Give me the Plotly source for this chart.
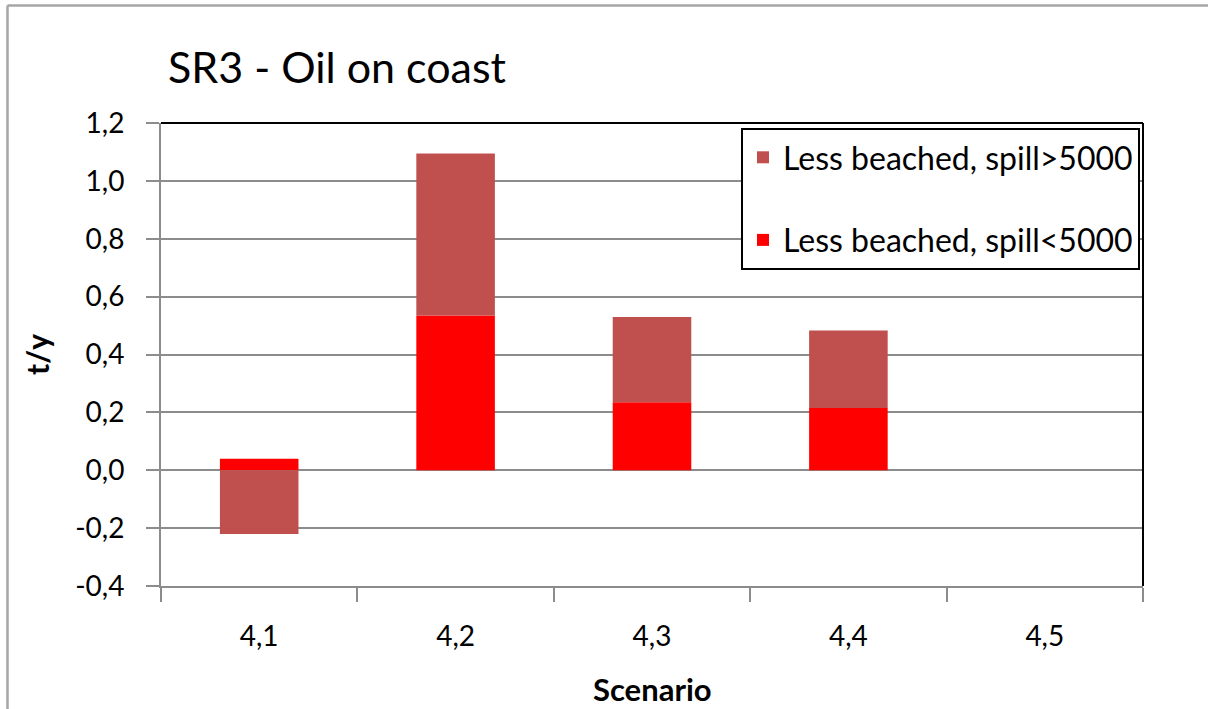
import plotly.graph_objects as go

# Scenario categories and stacked values (t/y)
scenarios = ["4,1", "4,2", "4,3", "4,4", "4,5"]
spill_below_5000 = [0.04, 0.535, 0.235, 0.215, 0]
spill_above_5000 = [-0.22, 0.56, 0.295, 0.268, 0]

y_tick_values = [-0.4, -0.2, 0.0, 0.2, 0.4, 0.6, 0.8, 1.0, 1.2]
y_tick_labels = ["-0,4", "-0,2", "0,0", "0,2", "0,4", "0,6", "0,8", "1,0", "1,2"]

FONT = "Lato, Open Sans, sans-serif"
W, H = 1208, 709
L, R, T, B = 161, 65, 123, 123
PW, PH = W - L - R, H - T - B


def px_x(px):
    return (px - L) / PW


def px_y(py):
    return (H - B - py) / PH


fig = go.Figure()
fig.add_trace(go.Bar(
    x=scenarios, y=spill_below_5000, name="Less beached, spill<5000",
    marker=dict(color="#FF0000", line=dict(width=0)),
    legendgroup="a", legendrank=2,
))
fig.add_trace(go.Bar(
    x=scenarios, y=spill_above_5000, name="Less beached, spill>5000",
    marker=dict(color="#C0504D", line=dict(width=0)),
    legendgroup="b", legendrank=1,
))

fig.update_layout(
    width=W, height=H,
    margin=dict(l=L, r=R, t=T, b=B, autoexpand=False),
    barmode="relative", bargap=0.6,
    paper_bgcolor="white", plot_bgcolor="white",
    font=dict(family=FONT, color="black"),
    showlegend=True,
    legend=dict(
        x=px_x(741), y=px_y(128), xanchor="left", yanchor="top",
        bordercolor="black", borderwidth=2, bgcolor="white",
        font=dict(size=32, family=FONT, color="black"),
        traceorder="grouped", tracegroupgap=38,
        itemwidth=30,
    ),
    xaxis=dict(
        type="category", range=[-0.5, 4.5],
        showline=True, linecolor="#8C8C8C", linewidth=2,
        ticks="outside", ticklen=14, tickcolor="#8C8C8C", tickwidth=2,
        tickson="boundaries", ticklabelstandoff=24,
        tickfont=dict(size=28, family=FONT, color="black"),
        showgrid=False, fixedrange=True,
    ),
    yaxis=dict(
        range=[-0.4, 1.2], tickvals=y_tick_values, ticktext=y_tick_labels,
        showline=True, linecolor="#8C8C8C", linewidth=2,
        ticks="outside", ticklen=13, tickcolor="#8C8C8C", tickwidth=2,
        ticklabelstandoff=16,
        tickfont=dict(size=28, family=FONT, color="black"),
        showgrid=True, gridcolor="#8C8C8C", gridwidth=2,
        zeroline=False, fixedrange=True,
    ),
    annotations=[
        dict(text="SR3 - Oil on coast", xref="paper", yref="paper",
             x=px_x(166), y=px_y(66), xanchor="left", yanchor="middle",
             showarrow=False, font=dict(size=43, family=FONT, color="black")),
        dict(text="<b>Scenario</b>", xref="paper", yref="paper",
             x=px_x(652), y=px_y(689), xanchor="center", yanchor="middle",
             showarrow=False, font=dict(size=31, family=FONT, color="black")),
        dict(text="<b>t/y</b>", xref="paper", yref="paper",
             x=px_x(37), y=px_y(355), xanchor="center", yanchor="middle",
             textangle=-90, showarrow=False,
             font=dict(size=30, family=FONT, color="black")),
    ],
    shapes=[
        # plot-area frame on top and right
        dict(type="line", xref="paper", yref="paper", x0=0, x1=1, y0=1, y1=1,
             line=dict(color="black", width=2)),
        dict(type="line", xref="paper", yref="paper", x0=1, x1=1, y0=0, y1=1,
             line=dict(color="black", width=2)),
        # outer chart border
        dict(type="line", xref="paper", yref="paper",
             x0=px_x(7.5), x1=px_x(1210), y0=px_y(5.5), y1=px_y(5.5),
             line=dict(color="#A6A6A6", width=2.5)),
        dict(type="line", xref="paper", yref="paper",
             x0=px_x(7.5), x1=px_x(7.5), y0=px_y(5.5), y1=px_y(712),
             line=dict(color="#A6A6A6", width=2.5)),
    ],
)

fig.write_html("out.html")
